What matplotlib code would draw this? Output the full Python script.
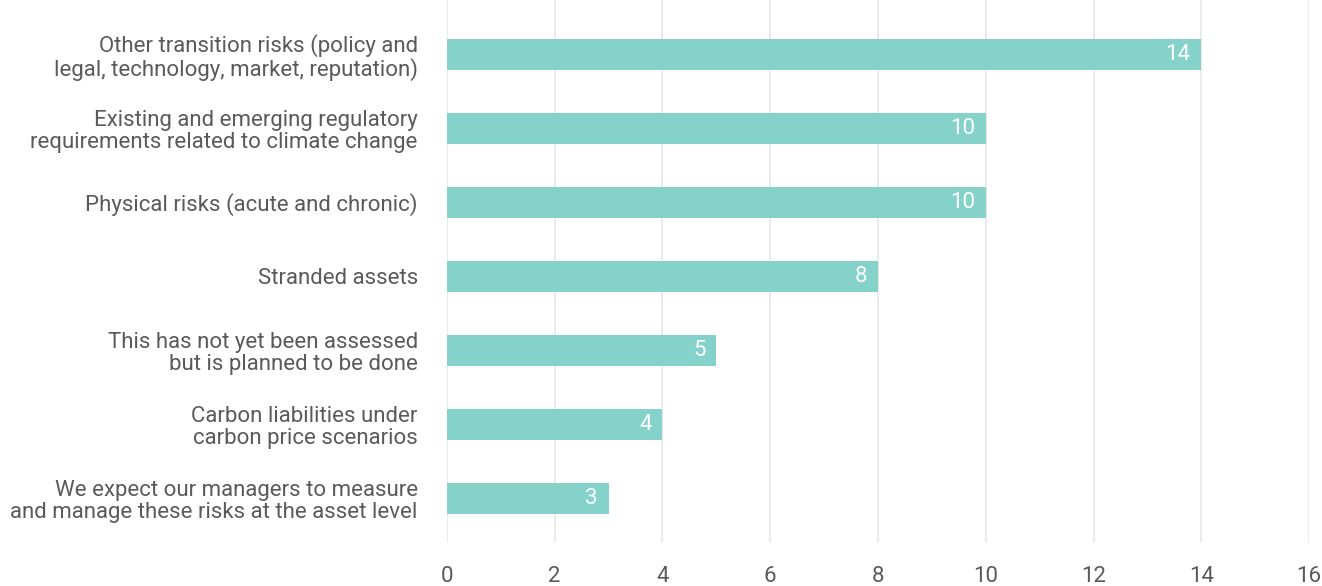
import matplotlib.pyplot as plt

plt.rcParams['font.family'] = ['Roboto', 'DejaVu Sans']

# ---------- data ----------
categories = [
    'Other transition risks (policy and\nlegal, technology, market, reputation)',
    'Existing and emerging regulatory\nrequirements related to climate change',
    'Physical risks (acute and chronic)',
    'Stranded assets',
    'This has not yet been assessed\nbut is planned to be done',
    'Carbon liabilities under\ncarbon price scenarios',
    'We expect our managers to measure\nand manage these risks at the asset level',
]
values = [14, 10, 10, 8, 5, 4, 3]
xticks = [0, 2, 4, 6, 8, 10, 12, 14, 16]

bar_color = '#84d2c9'
text_color = '#5a5a5a'
grid_color = '#e8e8e8'

fig = plt.figure(figsize=(13.22, 5.86), dpi=100)
ax = fig.add_axes([0.3381, 0.0751, 0.6521, 0.9249])

pos = list(range(len(categories)))
ax.barh(pos, values, height=0.42, color=bar_color, zorder=2)

for p, v in zip(pos, values):
    ax.text(v - 0.2, p, str(v), ha='right', va='center', color='white',
            fontsize=16, zorder=3)

ax.set_xlim(0, 16)
ax.set_ylim(6.59, -0.73)
ax.set_xticks(xticks)
ax.set_yticks(pos)
ax.set_yticklabels(categories, fontsize=16, color=text_color, linespacing=1.1)
ax.tick_params(axis='x', length=0, pad=17, labelsize=16, labelcolor=text_color)
ax.tick_params(axis='y', length=0, pad=21)

ax.grid(axis='x', color=grid_color, linewidth=1.2, zorder=0)
for s in ax.spines.values():
    s.set_visible(False)

fig.savefig('out.png', dpi=100)
